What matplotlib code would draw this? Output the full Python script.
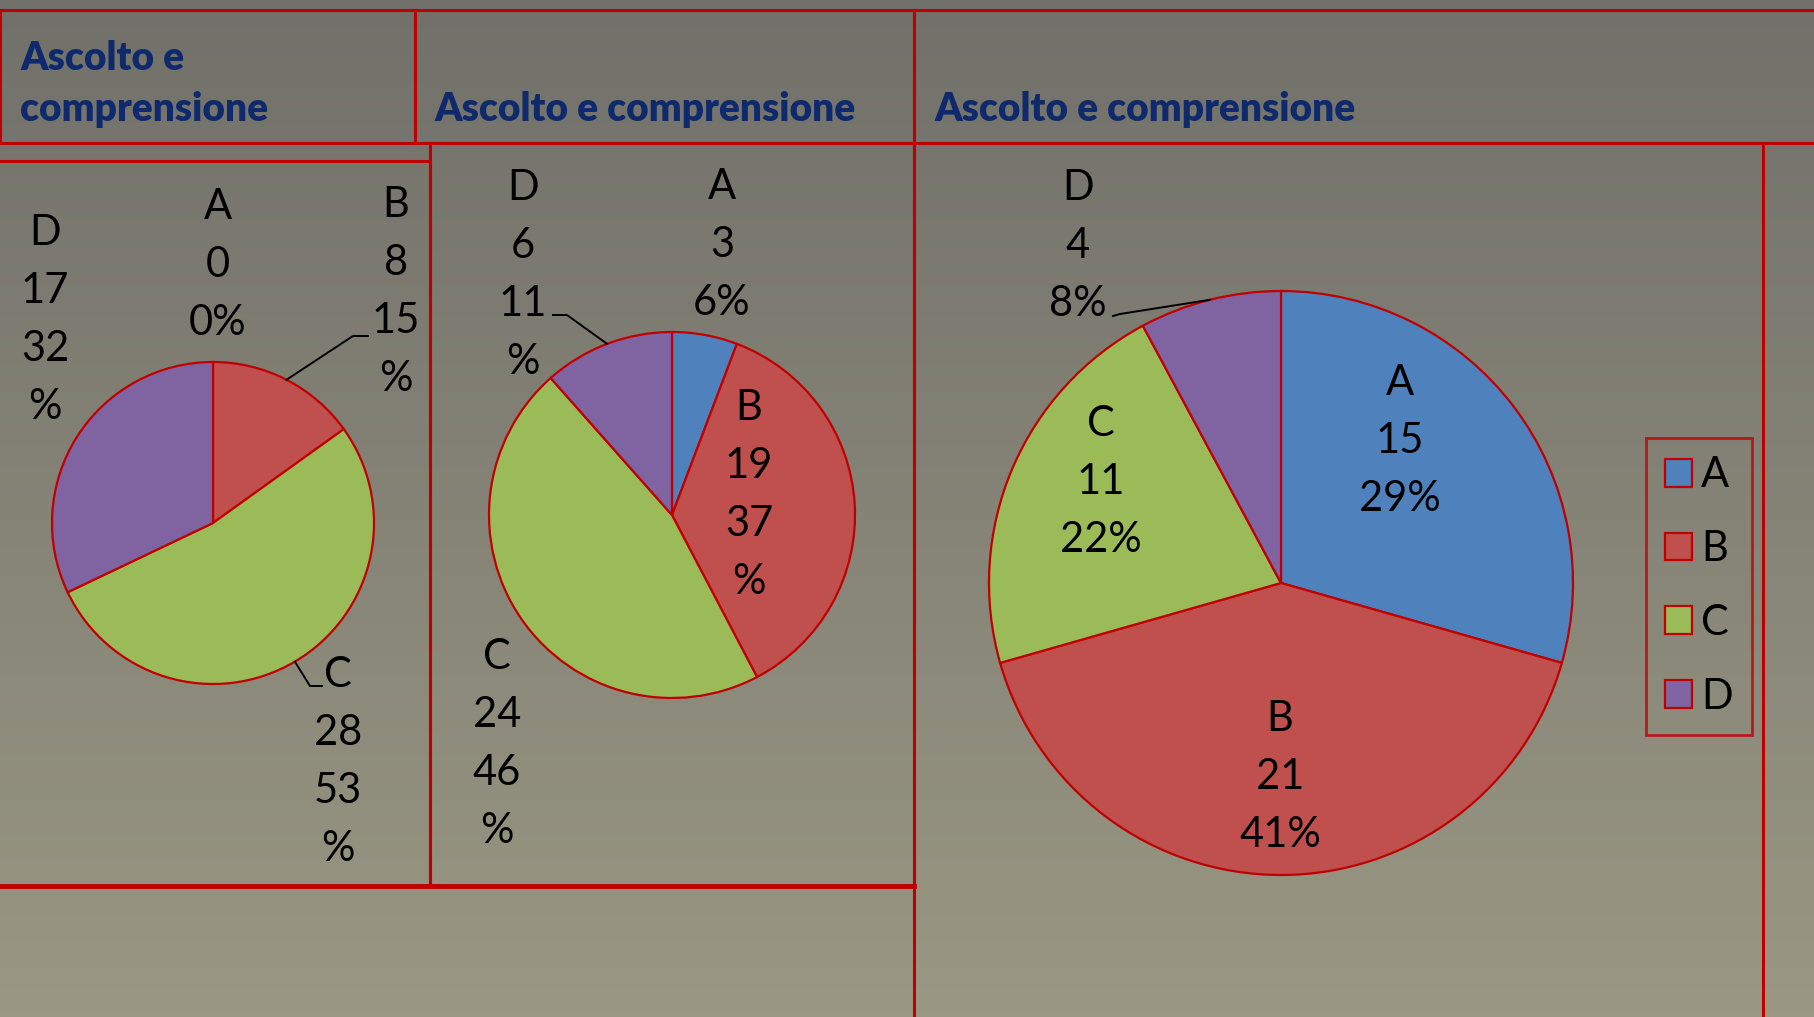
import matplotlib
matplotlib.use("Agg")
import matplotlib.pyplot as plt
from matplotlib.patches import Rectangle
import numpy as np

plt.rcParams['font.family'] = ['Lato', 'DejaVu Sans']

# data
categories = ['A', 'B', 'C', 'D']
values_1 = [0, 8, 28, 17]
values_2 = [3, 19, 24, 6]
values_3 = [15, 21, 11, 4]
pct_1 = [0, 15, 53, 32]
pct_2 = [6, 37, 46, 11]
pct_3 = [29, 41, 22, 8]
title = 'Ascolto e comprensione'

colors = ['#4f81bd', '#c0504d', '#9bbb59', '#8064a2']
red = '#c00000'
navy = '#0e2a6c'

W, H = 1814, 1017
fig = plt.figure(figsize=(W / 100, H / 100), dpi=100)
ax = fig.add_axes([0, 0, 1, 1])

# background gradient
top = np.array([0x71, 0x70, 0x6a]) / 255
bot = np.array([0x9a, 0x97, 0x83]) / 255
t = np.linspace(0, 1, 256)[:, None]
grad = (top * (1 - t) + bot * t)[:, None, :]
ax.imshow(grad, extent=(0, W, 0, H), aspect='auto', zorder=0)

def Y(y):
    return H - y

# pies: center x, center y (px from top), radius
pies = [
    (values_1, pct_1, 213, 523, 161),
    (values_2, pct_2, 672, 515, 183),
    (values_3, pct_3, 1281, 583, 292),
]
# label centres (px), and whether the percent wraps
label_pos = [
    [(218, 265, False), (396, 292, True), (338, 762, True), (45, 320, True)],
    [(722, 245, False), (749, 495, True), (497, 744, True), (523, 275, True)],
    [(1400, 441, False), (1280, 777, False), (1101, 482, False), (1078, 246, False)],
]
# leader lines: pie, category, elbow, end
leaders = [
    (0, 1, (353, 336), (368, 336)),
    (0, 2, (310, 686), (322, 686)),
    (1, 3, (567, 315), (553, 315)),
    (2, 3, (1120, 314), (1113, 316)),
]

wedges_all = []
for vals, pcts, cx, cy, r in pies:
    w, _ = ax.pie(vals, colors=colors, startangle=90, counterclock=False,
                  center=(cx, Y(cy)), radius=r, frame=True,
                  wedgeprops=dict(edgecolor=red, linewidth=1.6))
    wedges_all.append(w)

for i, (vals, pcts, cx, cy, r) in enumerate(pies):
    for j, cat in enumerate(categories):
        x, y, wrap = label_pos[i][j]
        p = f"{pcts[j]}\n%" if wrap else f"{pcts[j]}%"
        ax.text(x, Y(y), f"{cat}\n{vals[j]}\n{p}", ha='center', va='center',
                fontsize=30, linespacing=1.65, color='black', zorder=5)

for i, j, elbow, end in leaders:
    vals, pcts, cx, cy, r = pies[i]
    w = wedges_all[i][j]
    mid = np.deg2rad((w.theta1 + w.theta2) / 2)
    sx, sy = cx + r * np.cos(mid), cy - r * np.sin(mid)
    ax.plot([sx, elbow[0], end[0]], [Y(sy), Y(elbow[1]), Y(end[1])],
            color='black', lw=1.4, zorder=4)

# frames
lw = 2.2
frames = [
    (0, 10, 415, 143), (415, 10, 914, 143), (914, 10, 1830, 143),
    (-5, 161, 430, 886), (430, 143, 914, 886), (914, 143, 1763, 1030),
]
for x0, y0, x1, y1 in frames:
    ax.add_patch(Rectangle((x0, Y(y1)), x1 - x0, y1 - y0, fill=False,
                           edgecolor=red, lw=lw, zorder=3))
ax.plot([0, 914], [Y(886), Y(886)], color=red, lw=3.5, zorder=3)

# titles
tkw = dict(fontsize=28, fontweight='heavy', color=navy, va='center', ha='left')
ax.text(20, Y(58), 'Ascolto e', **tkw)
ax.text(20, Y(110), 'comprensione', **tkw)
ax.text(435, Y(110), title, **tkw)
ax.text(935, Y(110), title, **tkw)

# legend
leg = ax.legend(wedges_all[2], categories, loc='center',
                bbox_to_anchor=(1699 / W, 1 - 586 / H), fontsize=30,
                frameon=True, fancybox=False, edgecolor=red,
                handlelength=0.65, handleheight=0.65, handletextpad=0.22,
                labelspacing=0.86, borderpad=0.45)
leg.get_frame().set_facecolor('none')
leg.get_frame().set_linewidth(2)

ax.set_xlim(0, W)
ax.set_ylim(0, H)
ax.set_aspect('auto')
ax.axis('off')

fig.savefig('out.png', dpi=100)
